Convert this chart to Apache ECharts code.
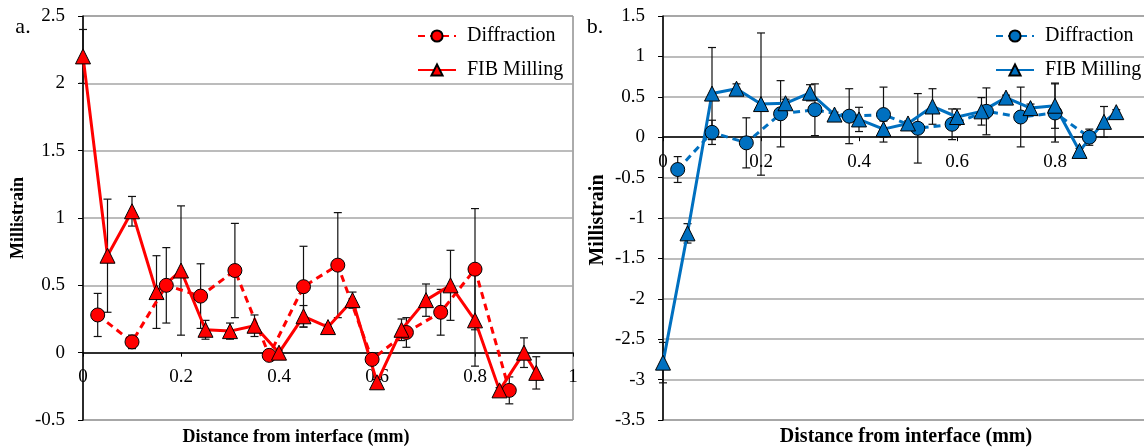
<!DOCTYPE html>
<html>
<head>
<meta charset="utf-8">
<script src="https://cdn.jsdelivr.net/npm/echarts@6/dist/echarts.min.js"></script>
<style>
  html, body { margin: 0; padding: 0; background: #fff; }
  #chart { width: 1144px; height: 448px; }
</style>
</head>
<body>
<div id="chart"></div>
<script>
// panel a (red)
const aDiffX = [0.03, 0.10, 0.17, 0.24, 0.31, 0.38, 0.45, 0.52, 0.59, 0.66, 0.73, 0.80, 0.87];
const aDiffY = [0.28, 0.08, 0.50, 0.42, 0.61, -0.02, 0.49, 0.65, -0.05, 0.15, 0.30, 0.62, -0.28];
const aDiffErr = [0.16, 0.05, 0.28, 0.24, 0.35, 0.02, 0.30, 0.39, 0.02, 0.11, 0.17, 0.45, 0.10];

const aFibX = [0, 0.05, 0.10, 0.15, 0.20, 0.25, 0.30, 0.35, 0.40, 0.45, 0.50, 0.55, 0.60, 0.65, 0.70, 0.75, 0.80, 0.85, 0.90, 0.925];
const aFibY = [2.2, 0.72, 1.05, 0.45, 0.61, 0.17, 0.16, 0.20, 0.0, 0.27, 0.19, 0.39, -0.22, 0.17, 0.39, 0.50, 0.24, -0.28, 0.0, -0.15];
const aFibErr = [0.2, 0.42, 0.11, 0.27, 0.48, 0.07, 0.06, 0.08, 0.02, 0.08, 0.02, 0.06, 0.02, 0.08, 0.12, 0.26, 0.34, 0.02, 0.11, 0.12];

// panel b (blue)
const bDiffX = [0.03, 0.10, 0.17, 0.24, 0.31, 0.38, 0.45, 0.52, 0.59, 0.66, 0.73, 0.80, 0.87];
const bDiffY = [-0.40, 0.06, -0.07, 0.29, 0.34, 0.26, 0.28, 0.11, 0.16, 0.32, 0.25, 0.30, 0.00];
const bDiffErr = [0.16, 0.15, 0.31, 0.41, 0.32, 0.34, 0.34, 0.43, 0.19, 0.29, 0.37, 0.36, 0.10];

const bFibX = [0, 0.05, 0.10, 0.15, 0.20, 0.25, 0.30, 0.35, 0.40, 0.45, 0.50, 0.55, 0.60, 0.65, 0.70, 0.75, 0.80, 0.85, 0.90, 0.925];
const bFibY = [-2.79, -1.19, 0.54, 0.60, 0.41, 0.42, 0.55, 0.28, 0.22, 0.10, 0.17, 0.38, 0.25, 0.32, 0.49, 0.36, 0.39, -0.17, 0.19, 0.31];
const bFibErr = [0.25, 0.12, 0.57, 0.06, 0.88, 0.05, 0.10, 0.03, 0.15, 0.10, 0.03, 0.22, 0.10, 0.17, 0.03, 0.05, 0.28, 0.03, 0.19, 0.03];

const aYRange = [-0.5, 2.5];
const bYRange = [-3.5, 1.5];

const RED = '#ff0000';
const BLUE = '#0070c0';
const FONT = '"Liberation Serif", "Times New Roman", serif';
const PLOT_H = 404;

const pts = (xs, ys) => xs.map((x, i) => [x, ys[i]]);
const errRows = (xs, ys, es) => xs.map((x, i) => [x, ys[i], es[i]]);

function errorBars(params, api) {
  const x = api.value(0), y = api.value(1), e = api.value(2);
  const hi = api.coord([x, y + e]);
  const lo = api.coord([x, y - e]);
  const style = { stroke: '#111', lineWidth: 1.2 };
  return {
    type: 'group',
    children: [
      { type: 'line', shape: { x1: hi[0], y1: hi[1], x2: lo[0], y2: lo[1] }, style },
      { type: 'line', shape: { x1: hi[0] - 4, y1: hi[1], x2: hi[0] + 4, y2: hi[1] }, style },
      { type: 'line', shape: { x1: lo[0] - 4, y1: lo[1], x2: lo[0] + 4, y2: lo[1] }, style }
    ]
  };
}

// x axis sits on y = 0 (labels too), so shift it up from the bottom edge
function xAxisFor(idx, yRange, fs) {
  const zeroOffset = PLOT_H * (0 - yRange[0]) / (yRange[1] - yRange[0]);
  return {
    type: 'value', gridIndex: idx, min: 0, max: 1, interval: 0.2,
    position: 'bottom', offset: -zeroOffset,
    axisLine: { onZero: false, lineStyle: { color: '#000', width: 1.5 } },
    axisTick: { show: true, length: 4, lineStyle: { color: '#000' } },
    splitLine: { show: false },
    axisLabel: { color: '#000', fontSize: fs, fontFamily: FONT, margin: 15 }
  };
}

function yAxisFor(idx, yRange, fs) {
  return {
    type: 'value', gridIndex: idx, min: yRange[0], max: yRange[1], interval: 0.5,
    axisLine: { show: true, onZero: false, lineStyle: { color: '#000', width: 1.5 } },
    axisTick: { show: true, length: 5, lineStyle: { color: '#000' } },
    splitLine: { show: true, lineStyle: { color: '#a6a6a6', width: 1.5 } },
    axisLabel: { color: '#000', fontSize: fs, fontFamily: FONT, margin: 18 }
  };
}

function lineSeries(name, idx, data, color, dashed, symbol) {
  return {
    name: name, type: 'line', xAxisIndex: idx, yAxisIndex: idx, data: data,
    symbol: symbol, symbolSize: symbol === 'circle' ? 14 : 15,
    lineStyle: { color: color, width: 3, type: dashed ? [7, 5] : 'solid' },
    itemStyle: { color: color, borderColor: '#000', borderWidth: 1 },
    z: 3, animation: false
  };
}

function errSeries(idx, rows) {
  return {
    type: 'custom', xAxisIndex: idx, yAxisIndex: idx, data: rows,
    encode: { x: 0, y: 1 }, renderItem: errorBars, z: 2, animation: false, silent: true
  };
}

function legendFor(left, names) {
  return {
    orient: 'vertical', left: left, top: 21, itemWidth: 38, itemHeight: 14, itemGap: 14,
    data: names, formatter: n => n.slice(2),
    textStyle: { color: '#000', fontSize: 20, fontFamily: FONT, padding: [0, 0, 0, 6] },
    selectedMode: false
  };
}

function label(text, x, y, size, bold, rotate) {
  return {
    type: 'text', x: x, y: y, rotation: rotate ? Math.PI / 2 : 0,
    style: {
      text: text, fill: '#000', font: (bold ? 'bold ' : '') + size + 'px ' + FONT,
      align: 'center', verticalAlign: 'middle'
    }
  };
}

const chart = echarts.init(document.getElementById('chart'));
chart.setOption({
  animation: false,
  backgroundColor: '#fff',
  grid: [
    { left: 83, top: 16, width: 490, height: PLOT_H, show: true, borderColor: '#595959', borderWidth: 1, outerBoundsMode: 'none', containLabel: false },
    { left: 663, top: 16, width: 490, height: PLOT_H, show: true, borderColor: '#595959', borderWidth: 1, outerBoundsMode: 'none', containLabel: false }
  ],
  xAxis: [xAxisFor(0, aYRange, 19), xAxisFor(1, bYRange, 19)],
  yAxis: [yAxisFor(0, aYRange, 19), yAxisFor(1, bYRange, 19)],
  legend: [
    legendFor(412, ['a:Diffraction', 'a:FIB Milling']),
    legendFor(990, ['b:Diffraction', 'b:FIB Milling'])
  ],
  series: [
    errSeries(0, errRows(aDiffX, aDiffY, aDiffErr)),
    errSeries(0, errRows(aFibX, aFibY, aFibErr)),
    lineSeries('a:Diffraction', 0, pts(aDiffX, aDiffY), RED, true, 'circle'),
    lineSeries('a:FIB Milling', 0, pts(aFibX, aFibY), RED, false, 'triangle'),
    errSeries(1, errRows(bDiffX, bDiffY, bDiffErr)),
    errSeries(1, errRows(bFibX, bFibY, bFibErr)),
    lineSeries('b:Diffraction', 1, pts(bDiffX, bDiffY), BLUE, true, 'circle'),
    lineSeries('b:FIB Milling', 1, pts(bFibX, bFibY), BLUE, false, 'triangle')
  ],
  graphic: [
    label('a.', 23, 27, 22, false, false),
    label('b.', 595, 27, 22, false, false),
    label('Millistrain', 18, 218, 18, true, true),
    label('Millistrain', 598, 220, 20, true, true),
    label('Distance from interface (mm)', 296, 437, 18, true, false),
    label('Distance from interface (mm)', 906, 437, 20, true, false)
  ]
});
</script>
</body>
</html>
